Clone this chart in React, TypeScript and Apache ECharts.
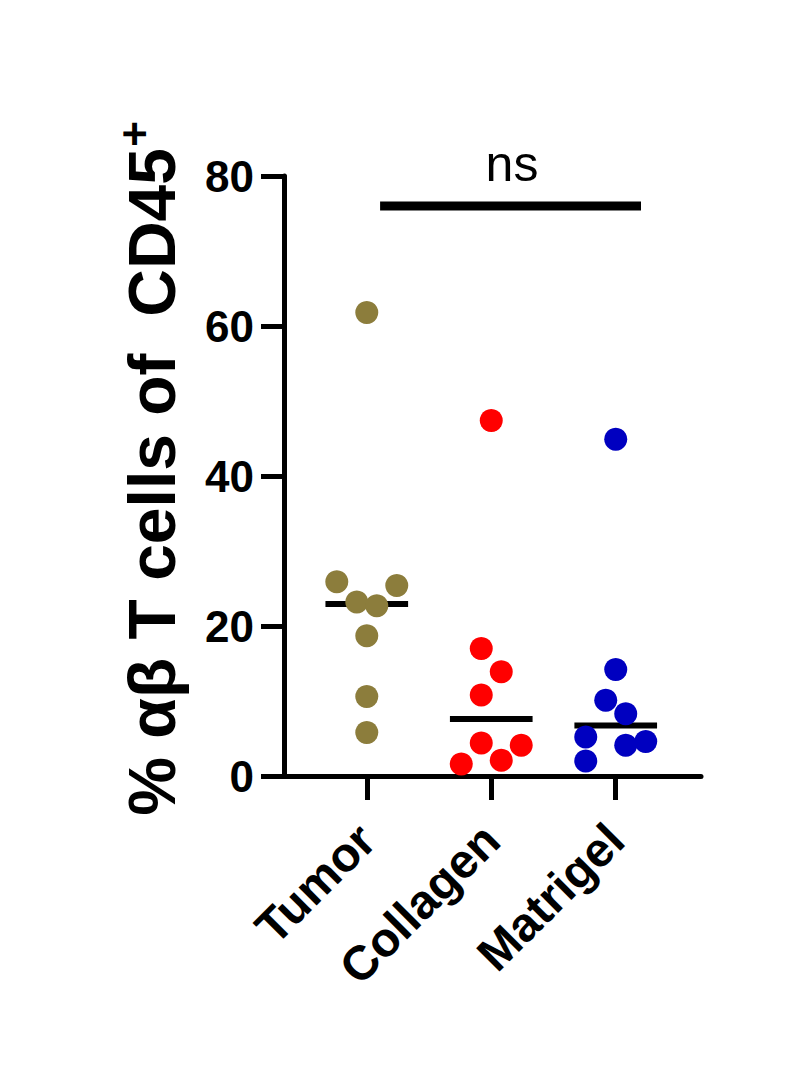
import React, { useEffect, useRef } from "react";
import * as echarts from "echarts";

const categories = ["Tumor", "Collagen", "Matrigel"];
const groupColors = ["#8C7D3C", "#FF0000", "#0000C0"];
const tumorValues = [61.8, 25.9, 25.4, 23.2, 22.7, 18.7, 10.6, 5.8];
const tumorOffsets = [0, -1.5, 1.5, -0.5, 0.5, 0, 0, 0];
const collagenValues = [47.4, 17.0, 13.9, 10.8, 4.4, 4.1, 2.1, 1.6];
const collagenOffsets = [0, -0.5, 0.5, -0.5, -0.5, 1.5, 0.5, -1.5];
const matrigelValues = [44.9, 14.2, 10.1, 8.3, 5.2, 4.6, 4.1, 2.0];
const matrigelOffsets = [0, 0, -0.5, 0.5, -1.5, 1.5, 0.5, -1.5];
const yMin = 0;
const yMax = 80;
const yInterval = 20;
const sigLabel = "ns";
const sigY = 76;
const sigFrom = 0.107;
const sigTo = 2.203;
const yTitle = "% αβ T cells of  CD45";
const yTitleSup = "+";

const FONT = "'Liberation Sans', Arial, Helvetica, sans-serif";

function median(arr: number[]) {
  const s = [...arr].sort((a, b) => a - b);
  const n = s.length;
  return n % 2 ? s[(n - 1) / 2] : (s[n / 2 - 1] + s[n / 2]) / 2;
}

export default function App() {
  const ref = useRef<HTMLDivElement>(null);
  useEffect(() => {
    if (!ref.current) return;
    const chart = echarts.init(ref.current, undefined, { renderer: "svg" });
    const groups = [
      { values: tumorValues, offsets: tumorOffsets },
      { values: collagenValues, offsets: collagenOffsets },
      { values: matrigelValues, offsets: matrigelOffsets },
    ];
    const step = 0.1606;
    const halfWidth = 0.332;
    const series: any[] = [];
    groups.forEach((g, i) => {
      const med = median(g.values);
      series.push({
        type: "line",
        name: categories[i] + " median",
        data: [
          [i - halfWidth, med],
          [i + halfWidth, med],
        ],
        symbol: "none",
        lineStyle: { color: "#000", width: 6, cap: "butt" },
        z: 2,
        silent: true,
      });
    });
    groups.forEach((g, i) => {
      series.push({
        type: "scatter",
        name: categories[i],
        data: g.values.map((v, k) => [i + g.offsets[k] * step, v]),
        symbol: "circle",
        symbolSize: 23,
        itemStyle: { color: groupColors[i], opacity: 1 },
        z: 3,
      });
    });
    series.push({
      type: "line",
      name: "significance",
      data: [
        [sigFrom, sigY],
        [sigTo, sigY],
      ],
      symbol: "none",
      lineStyle: { color: "#000", width: 9, cap: "butt" },
      z: 2,
      silent: true,
    });

    chart.setOption({
      animation: false,
      backgroundColor: "#fff",
      grid: { left: 284, right: 99, top: 176, bottom: 296, containLabel: false },
      xAxis: {
        type: "value",
        min: -0.665,
        max: 2.685,
        splitLine: { show: false },
        axisLine: { show: true, onZero: false, lineStyle: { color: "#000", width: 5 } },
        axisTick: {
          show: true,
          customValues: [0, 1, 2],
          length: 24,
          lineStyle: { color: "#000", width: 5 },
        },
        axisLabel: {
          show: true,
          customValues: [0, 1, 2],
          formatter: (v: number) => categories[Math.round(v)] ?? "",
          rotate: 45,
          margin: 56,
          fontSize: 48,
          fontWeight: "bold",
          fontFamily: FONT,
          color: "#000",
        },
      },
      yAxis: {
        type: "value",
        min: yMin,
        max: yMax,
        interval: yInterval,
        splitLine: { show: false },
        axisLine: { show: true, onZero: false, lineStyle: { color: "#000", width: 5 } },
        axisTick: { show: true, length: 23, lineStyle: { color: "#000", width: 5 } },
        axisLabel: {
          fontSize: 44,
          fontWeight: "bold",
          fontFamily: FONT,
          color: "#000",
          margin: 30,
        },
      },
      graphic: [
        {
          type: "text",
          x: 152,
          y: 148,
          rotation: Math.PI / 2,
          style: {
            text: yTitle,
            fontSize: 66,
            fontWeight: "bold",
            fontFamily: FONT,
            fill: "#000",
            align: "right",
            verticalAlign: "middle",
          },
        },
        {
          type: "text",
          x: 134,
          y: 134,
          rotation: Math.PI / 2,
          style: {
            text: yTitleSup,
            fontSize: 44,
            fontWeight: "bold",
            fontFamily: FONT,
            fill: "#000",
            align: "center",
            verticalAlign: "middle",
          },
        },
        {
          type: "text",
          x: 512,
          y: 189,
          style: {
            text: sigLabel,
            fontSize: 50,
            fontFamily: FONT,
            fill: "#000",
            align: "center",
            verticalAlign: "bottom",
          },
        },
      ],
      series,
    });
    return () => chart.dispose();
  }, []);
  return (
    <div
      ref={ref}
      style={{ position: "fixed", left: 0, top: 0, width: 800, height: 1072, background: "#fff" }}
    />
  );
}
